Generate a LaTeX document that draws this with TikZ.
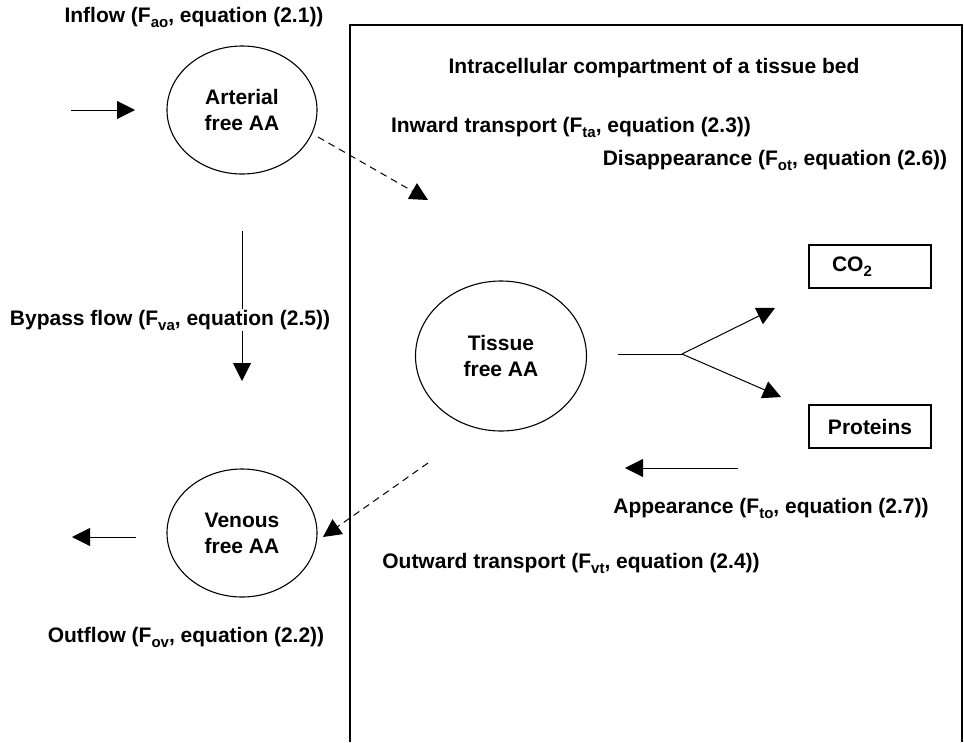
\documentclass[tikz,border=0pt]{standalone}
\usepackage{fontspec}
\setmainfont{Liberation Sans}
\usetikzlibrary{arrows.meta,shapes.geometric}
\newcommand{\sbx}[1]{\raisebox{-5pt}{\fontsize{15}{15}\selectfont #1}}
\tikzset{
  lbl/.style={font=\bfseries\fontsize{21}{26}\selectfont, inner sep=1pt},
  pool/.style={ellipse, draw, line width=1.1pt, align=center, inner sep=0pt,
    font=\bfseries\fontsize{21}{26}\selectfont},
  box/.style={draw, line width=1.1pt, minimum width=122pt, minimum height=43pt,
    inner sep=0pt, font=\bfseries\fontsize{21}{26}\selectfont},
  flow/.style={line width=1pt, -{Triangle[length=18pt,width=18pt]}},
  dflow/.style={line width=1pt, dash pattern=on 7pt off 5pt, -{Triangle[length=18pt,width=18pt]}},
  plain/.style={line width=1pt}
}
\begin{document}
\begin{tikzpicture}[x=1pt,y=-1pt]
\useasboundingbox (0,0) rectangle (964,742);
% compartment (open at the bottom)
\coordinate (cBL) at (350,742);
\coordinate (cTL) at (350,25);
\coordinate (cTR) at (962,25);
\coordinate (cBR) at (962,742);
\draw[line width=1.6pt] (cBL) -- (cTL) -- (cTR) -- (cBR);

% pools
\node[pool, minimum width=150pt, minimum height=128pt] (art) at (242,110) {Arterial\\free AA};
\node[pool, minimum width=150pt, minimum height=128pt] (ven) at (242,533) {Venous\\free AA};
\node[pool, minimum width=171pt, minimum height=150pt] (tis) at (501,356) {Tissue\\free AA};
\node[box, text width=76pt, inner xsep=23pt, align=left] (co2) at (870,266.5) {CO\sbx{2}};
\node[box] (prot) at (870,426.5) {Proteins};

% labels
\node[lbl] (linflow) at (194,17) {Inflow (F\sbx{ao}, equation (2.1))};
\node[lbl] (lintra) at (654,68) {Intracellular compartment of a tissue bed};
\node[lbl] (linward) at (571,127) {Inward transport (F\sbx{ta}, equation (2.3))};
\node[lbl] (ldis) at (775,160) {Disappearance (F\sbx{ot}, equation (2.6))};
\node[lbl] (lapp) at (771,508) {Appearance (F\sbx{to}, equation (2.7))};
\node[lbl] (lout) at (571,563) {Outward transport (F\sbx{vt}, equation (2.4))};
\node[lbl] (loutflow) at (186,637) {Outflow (F\sbx{ov}, equation (2.2))};

% connector end points
\coordinate (inS) at (71,110);
\coordinate (inE) at (135,110);
\coordinate (byS) at (242,231);
\coordinate (byE) at (242,381);
\coordinate (ofS) at (136,537);
\coordinate (ofE) at (72,537);
\coordinate (iwS) at (318,137);
\coordinate (iwE) at (428,200);
\coordinate (owS) at (428,463);
\coordinate (owE) at (323,537);
\coordinate (fkS) at (618,354);
\coordinate (fk) at (682,354);
\coordinate (fkA) at (775,308);
\coordinate (fkB) at (781,397);
\coordinate (apS) at (738,468);
\coordinate (apE) at (625,468);

\draw[flow] (inS) -- (inE);
\draw[flow] (byS) -- (byE);
\draw[flow] (ofS) -- (ofE);
\draw[dflow] (iwS) -- (iwE);
\draw[dflow] (owS) -- (owE);
\draw[plain] (fkS) -- (fk);
\draw[flow] (fk) -- (fkA);
\draw[flow] (fk) -- (fkB);
\draw[flow] (apS) -- (apE);

% bypass label drawn over its line
\node[lbl, fill=white] (lby) at (170,320) {Bypass flow (F\sbx{va}, equation (2.5))};
\end{tikzpicture}
\end{document}
